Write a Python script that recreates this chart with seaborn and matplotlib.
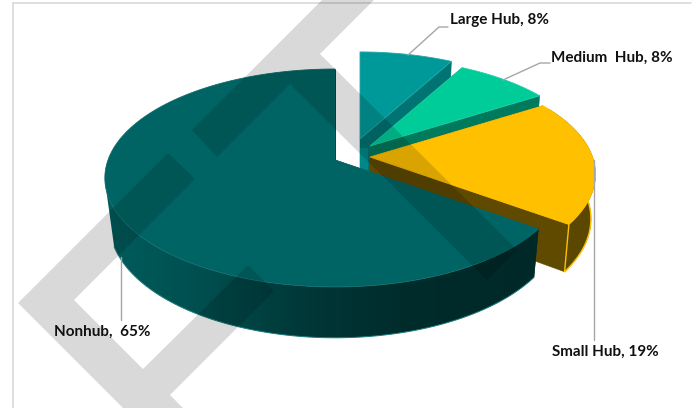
import numpy as np
import matplotlib
matplotlib.use("Agg")
import matplotlib.pyplot as plt
from matplotlib.colors import LinearSegmentedColormap
from matplotlib.patches import Polygon
import seaborn as sns

# Share of enplanements by hub class, clockwise from twelve o'clock
categories = ["Large Hub", "Medium Hub", "Small Hub", "Nonhub"]
shares = [8, 8, 19, 65]
label_texts = ["Large Hub, 8%", "Medium  Hub, 8%", "Small Hub, 19%", "Nonhub,  65%"]

top_colors = sns.color_palette(["#009999", "#00CC99", "#FFC000", "#006464"])
radial_colors = ["#007373", "#007A5C", "#5F4A00", "#002C2C"]
wall_colors = ["#007373", "#007A5C", "#5C4700", "#004D4D"]
edge_colors = ["#2AA5A5", "#20D0A5", "#FFC000", "#0C6C6C"]

# Screen position of each slice's apex and its scale after the explosion
apex = [(360, 139), (370, 146), (370, 157), (335, 160)]
scale = [0.95, 0.96, 0.98, 1.0]

# Perspective camera parameters for the disc
A, B, K = 227.0, 106.0, 0.165
DEPTH, M = 46.0, 0.02

sns.set_theme(style="white")
plt.rcParams["font.family"] = ["Lato", "DejaVu Sans"]
fig = plt.figure(figsize=(6.97, 4.08), dpi=100)
ax = fig.add_axes([0, 0, 1, 1])
ax.axis("off")


def project(i, theta, r=1.0, d=0.0):
    """Map polar disc coordinates (clockwise degrees from top) to the canvas."""
    t = np.radians(theta)
    u, v = r * scale[i] * np.sin(t), r * scale[i] * np.cos(t)
    w = 1 + K * v + M * d
    return (apex[i][0] + A * u / w,
            apex[i][1] - (B * v - DEPTH * scale[i] * d) / w)


# Chart frame: only the top and left rules show
ax.plot([13, 13], [3, 408], color="#D9D9D9", lw=1.2, zorder=1)
ax.plot([13, 691], [3, 3], color="#D9D9D9", lw=1.2, zorder=1)

# Left-to-right shading of the large outer wall
wall_shade = LinearSegmentedColormap.from_list(
    "wall", [(0.0, "#005C5C"), (0.22, "#004F4F"), (0.45, "#003838"),
             (0.68, "#002C2C"), (1.0, "#002828")])

edges = np.cumsum([0] + shares) * 3.6
for i in range(len(shares)):
    a0, a1 = edges[i], edges[i + 1]
    z = 2 + i
    thetas = np.linspace(a0, a1, 240)

    # Cut faces toward the apex
    for ang in (a0, a1):
        quad = [project(i, ang, r=0), project(i, ang), project(i, ang, d=1), project(i, ang, r=0, d=1)]
        ax.add_patch(Polygon(quad, closed=True, fc=radial_colors[i], ec=radial_colors[i],
                             lw=0.4, zorder=z))

    # Inner corner of the large-hub slice seen through the gap
    if i == 0:
        ax.fill_between([apex[0][0], apex[0][0] + 8], apex[0][1] + 9, apex[0][1] + 32,
                        color="#008888", lw=0, zorder=z)

    # Outer wall, closed along the tangent between the two rims
    top_arc = thetas[(np.cos(np.radians(thetas)) < 0.5) & (thetas <= 260)]
    low_arc = thetas[(np.cos(np.radians(thetas)) < 0.5) & (thetas <= 250)]
    if top_arc.size:
        tx, ty = project(i, top_arc)
        bx, by = project(i, low_arc, d=1)
        outline = np.column_stack([np.r_[tx, bx[::-1]], np.r_[ty, by[::-1]]])
        if i == 3:
            patch = Polygon(outline, closed=True, fc="none", ec="none", transform=ax.transData)
            ax.add_patch(patch)
            img = ax.imshow(np.linspace(0, 1, 256)[None, :], cmap=wall_shade, aspect="auto",
                            extent=[105, 540, 345, 60], zorder=z, interpolation="bilinear")
            img.set_clip_path(patch)
            ax.plot(bx, by, color="#1A7A7A", lw=0.7, zorder=z)
        else:
            ax.add_patch(Polygon(outline, closed=True, fc=wall_colors[i], ec=wall_colors[i],
                                 lw=0.4, zorder=z))

    # Top face
    xs, ys = project(i, thetas)
    pts = np.column_stack([np.r_[apex[i][0], xs], np.r_[apex[i][1], ys]])
    ax.add_patch(Polygon(pts, closed=True, fc=top_colors[i], ec=edge_colors[i], lw=0.6,
                         joinstyle="round", zorder=z))

# Yellow rim on the small-hub slice
xs, ys = project(2, np.linspace(90, edges[3], 120), d=1)
ax.plot(xs, ys, color="#FFC000", lw=1.0, zorder=4.5)
x_c, y_c = project(2, edges[3])
x_d, y_d = project(2, edges[3], d=1)
ax.plot([x_c, x_d], [y_c, y_d], color="#FFC000", lw=1.0, zorder=4.5)

# Rotated draft mark, a translucent layer over the whole chart
mark = [
    [(18, 303), (168, 153), (195, 179), (74, 300), (143, 369), (248, 265), (274, 291),
     (170, 395), (190, 415), (130, 415)],
    [(192, 130), (322, 0), (374, 0), (320, 54), (517, 250), (487, 280), (290, 84), (217, 157)],
]
for poly in mark:
    ax.add_patch(Polygon(poly, closed=True, fc="black", ec="none", alpha=0.15, zorder=10))

# Leader lines
leaders = [
    ([448, 439, 408], [27, 27, 55]),
    ([550, 540, 503], [63, 63, 80]),
    ([594, 594], [160, 340]),
    ([121, 121], [257, 320]),
]
for lx, ly in leaders:
    ax.plot(lx, ly, color="#A6A6A6", lw=1.0, zorder=11)

# Data labels
label_pos = [(450, 20), (551, 58), (552, 352), (54, 332)]
for txt, (lx, ly) in zip(label_texts, label_pos):
    ax.text(lx, ly, txt, fontsize=11, fontweight="bold", color="#111111",
            ha="left", va="center", zorder=12)

ax.set_xlim(0, 697)
ax.set_ylim(408, 0)
fig.savefig("out.png", dpi=100)
